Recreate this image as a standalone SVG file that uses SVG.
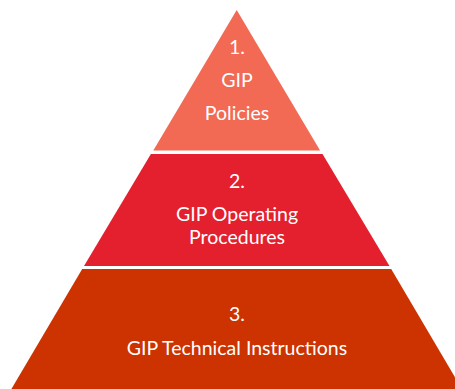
<svg xmlns="http://www.w3.org/2000/svg" width="455" height="389" viewBox="0 0 455 389">
<style>
text{font-family:Lato,"Open Sans","Liberation Sans",sans-serif;font-size:19.5px;fill:#ffffff;text-anchor:middle}
</style>
<rect width="455" height="389" fill="#ffffff"/>
<g id="tier1">
<polygon points="236.7,10 153.3,150.5 320.1,150.5" fill="#F26A53"/>
<text x="237" y="54">1.</text>
<text x="237" y="87">GIP</text>
<text x="237" y="119.5">Policies</text>
</g>
<g id="tier2">
<polygon points="150.9,154 322.5,154 389.5,266 84,266" fill="#E41F2E"/>
<text x="237" y="188">2.</text>
<text x="237" y="221">GIP Operating</text>
<text x="237" y="244">Procedures</text>
</g>
<g id="tier3">
<polygon points="82.2,269 391.2,269 462,389 11.4,389" fill="#CC3300"/>
<text x="237" y="321">3.</text>
<text x="237" y="355">GIP Technical Instructions</text>
</g>
<g id="connectors"/>
</svg>
